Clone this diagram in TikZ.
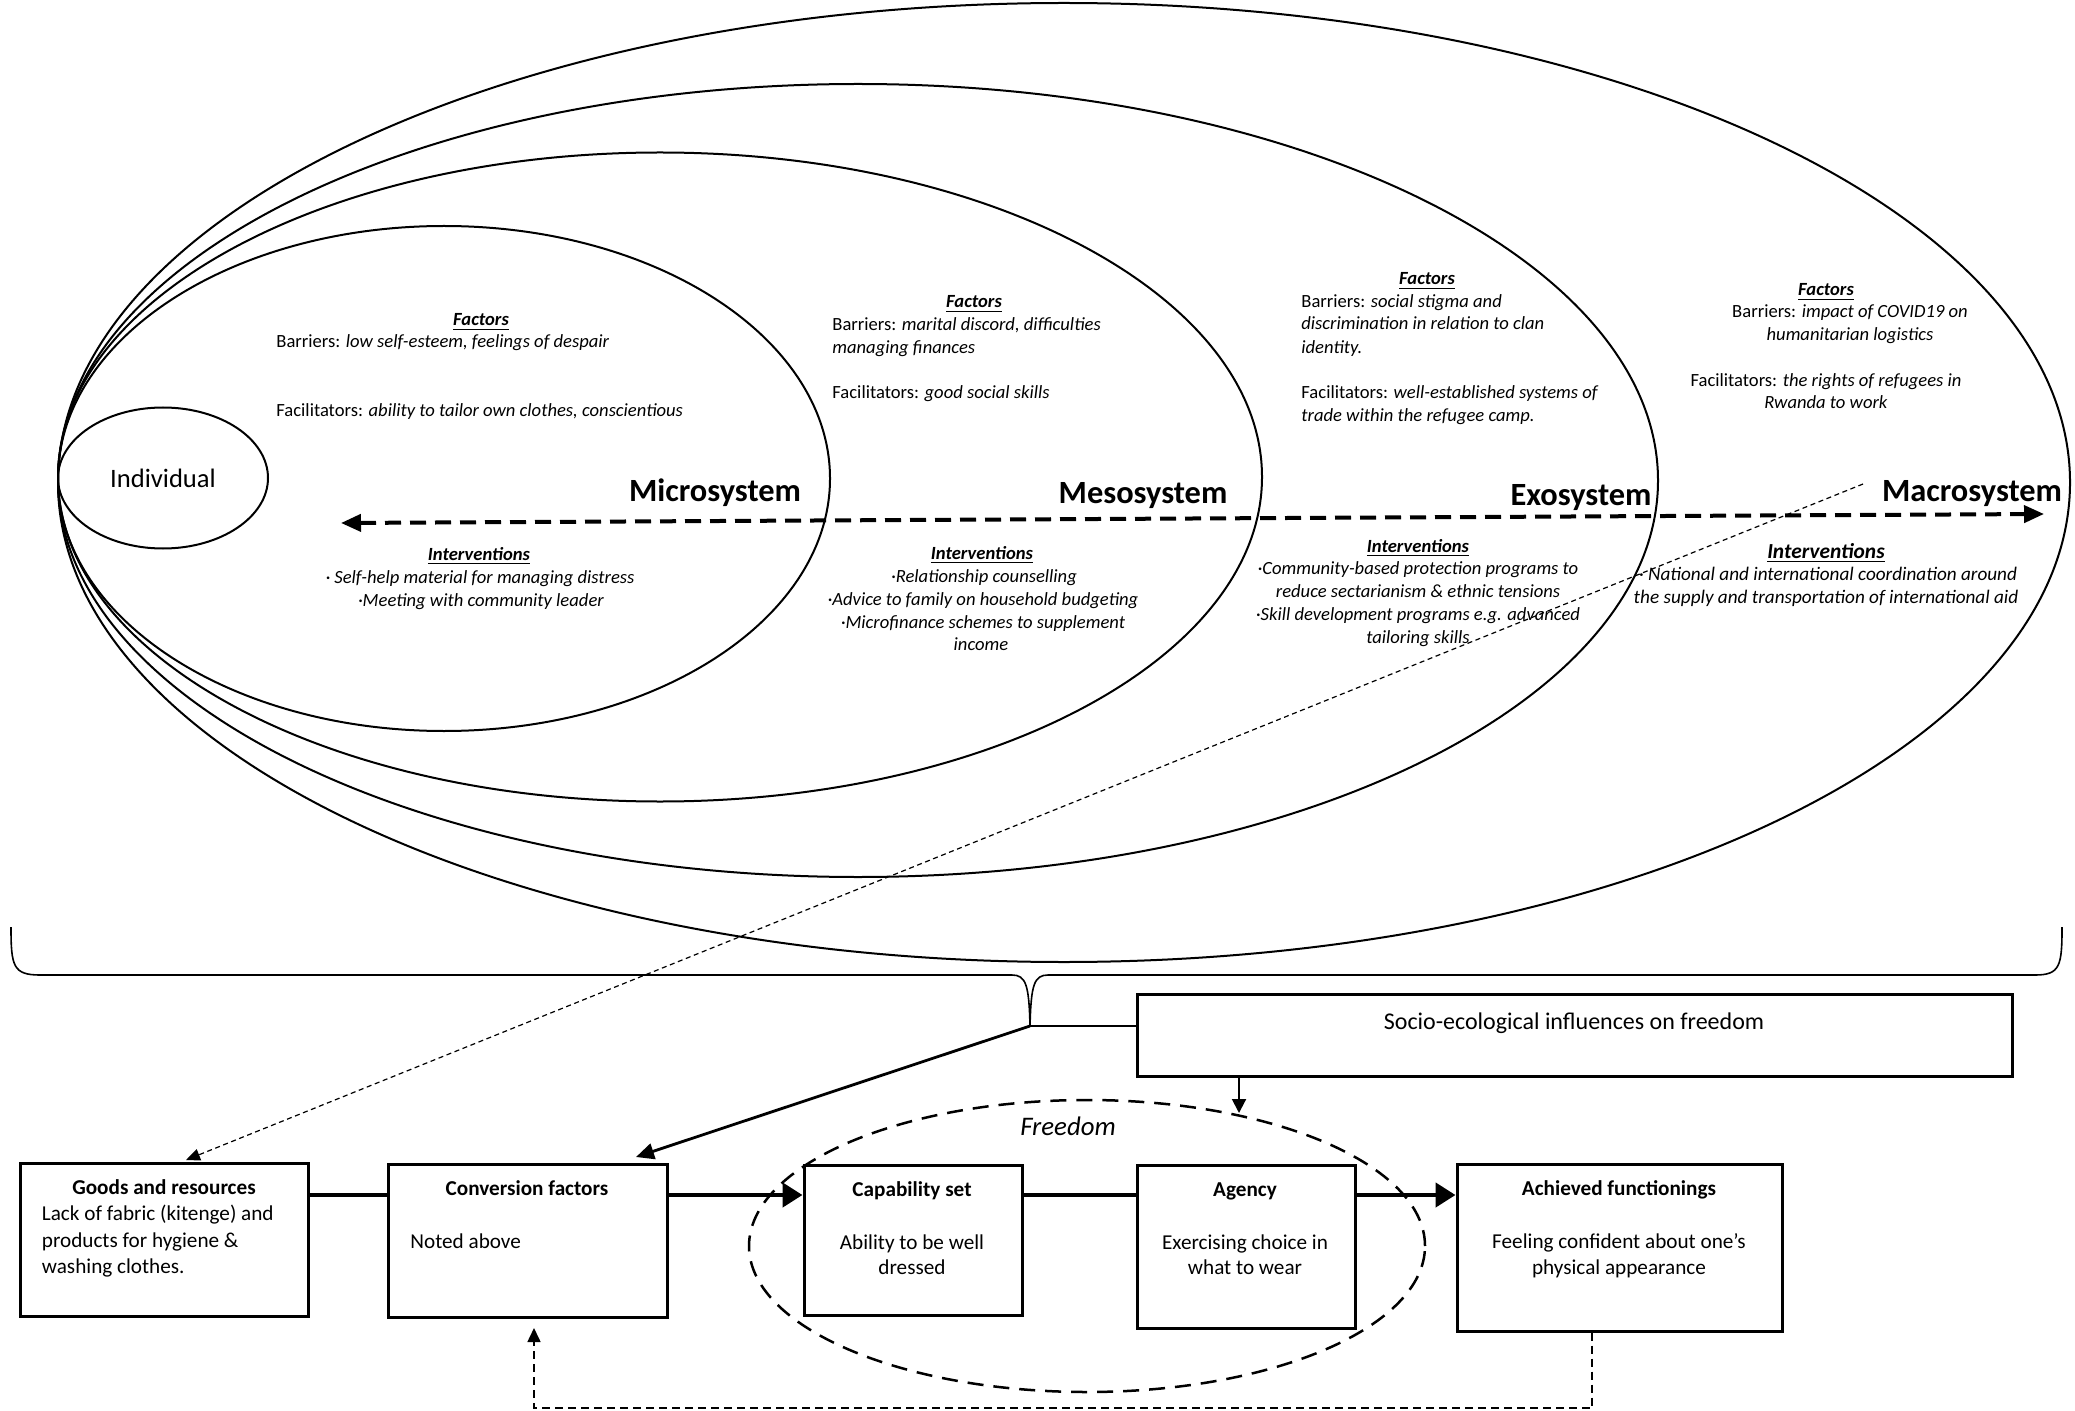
\documentclass[tikz,border=0pt]{standalone}
\usepackage{fontspec}
\setmainfont{Carlito}
\usetikzlibrary{arrows.meta,shapes.geometric}
\newcommand\fzbody{\fontsize{9.3}{11.5}\selectfont}
\newcommand\fzbox{\fontsize{10.6}{13.25}\selectfont}
\newcommand\myhdr[1]{\underline{\textbf{\textit{#1}}}}
\begin{document}
\begin{tikzpicture}[x=0.5pt,y=-0.5pt,
  ring/.style={draw, line width=1pt, ellipse, inner sep=0pt},
  txt/.style={inner sep=0pt, font=\fzbody},
  atxt/.style={inner sep=0pt, font=\fontsize{9.6}{11.5}\selectfont},
  btxt/.style={inner sep=0pt, font=\fzbox},
  syslabel/.style={inner sep=0pt, font=\fontsize{16.2}{19}\selectfont\bfseries},
  boxnode/.style={draw, line width=1.5pt, rectangle, inner sep=0pt},
  heavy/.style={line width=2.25pt},
  heavytip/.style={-{Triangle[length=10pt,width=12pt]}},
  medline/.style={line width=1.4pt},
  bigdash/.style={line width=2pt, dash pattern=on 8pt off 4.5pt, {Triangle[length=10pt,width=8.5pt]}-{Triangle[length=10pt,width=8.5pt]}},
  freedash/.style={draw, ellipse, inner sep=0pt, line width=1.25pt, dash pattern=on 8pt off 5pt},
  thindash/.style={line width=0.6pt, dash pattern=on 2.5pt off 1.8pt, -{Triangle[length=7pt,width=6pt]}},
  fbdash/.style={line width=0.8pt, dash pattern=on 4pt off 2.5pt, -{Triangle[length=7pt,width=6.5pt]}}
]
\fill[white] (0,0) rectangle (2075,1411);
\useasboundingbox (0,0) rectangle (2075,1411);

% ecological ellipses
\node[ring, minimum width=1006pt, minimum height=479.5pt] (macro) at (1064,482.5) {};
\node[ring, minimum width=800pt, minimum height=396.5pt] (exo) at (858,480.5) {};
\node[ring, minimum width=602pt, minimum height=324.5pt] (meso) at (660,477) {};
\node[ring, minimum width=386pt, minimum height=252.5pt] (micro) at (444,478.5) {};
\node[ring, minimum width=105pt, minimum height=70.5pt, font=\fontsize{13.3}{16}\selectfont] (indiv) at (163,478) {Individual};

% system labels
\node[syslabel, anchor=base] (lmicro) at (715,502) {Microsystem};
\node[syslabel, anchor=base] (lmeso) at (1143,503) {Mesosystem};
\node[syslabel, anchor=base] (lexo) at (1581,505) {Exosystem};
\node[syslabel, anchor=base] (lmacro) at (1972,502) {Macrosystem};

% big double-headed dashed arrow
\coordinate (dl) at (341,523);
\coordinate (dr) at (2044,514);
\draw[bigdash] (dl) -- (dr);

% Microsystem texts
\node[txt, anchor=base] (mfac) at (481,326) {\myhdr{Factors}};
\node[txt, anchor=base west] (mbar) at (276,348) {Barriers: \textit{low self-esteem, feelings of despair}};
\node[txt, anchor=base west] (mfacil) at (276,417) {Facilitators: \textit{ability to tailor own clothes, conscientious}};
\node[txt, anchor=base] (mint) at (479,560) {\myhdr{Interventions}};
\node[txt, anchor=base] (mi1) at (480,583) {\textit{· Self-help material for managing distress}};
\node[txt, anchor=base] (mi2) at (481,606) {\textit{·Meeting with community leader}};

% Mesosystem texts
\node[txt, anchor=base] (sfac) at (974,308) {\myhdr{Factors}};
\node[txt, anchor=base west] (sbar1) at (832,331) {Barriers: \textit{marital discord, difficulties}};
\node[txt, anchor=base west] (sbar2) at (832,354) {\textit{managing finances}};
\node[txt, anchor=base west] (sfacil) at (832,399) {Facilitators: \textit{good social skills}};
\node[txt, anchor=base] (sint) at (982,559) {\myhdr{Interventions}};
\node[txt, anchor=base] (si1) at (984,582) {\textit{·Relationship counselling}};
\node[txt, anchor=base] (si2) at (983,605) {\textit{·Advice to family on household budgeting}};
\node[txt, anchor=base] (si3) at (983,628) {\textit{·Microfinance schemes to supplement}};
\node[txt, anchor=base] (si4) at (981,650) {\textit{income}};

% Exosystem texts
\node[txt, anchor=base] (efac) at (1427,285) {\myhdr{Factors}};
\node[txt, anchor=base west] (ebar1) at (1301,308) {Barriers: \textit{social stigma and}};
\node[txt, anchor=base west] (ebar2) at (1301,330) {\textit{discrimination in relation to clan}};
\node[txt, anchor=base west] (ebar3) at (1301,354) {\textit{identity.}};
\node[txt, anchor=base west] (efacil1) at (1301,399) {Facilitators: \textit{well-established systems of}};
\node[txt, anchor=base west] (efacil2) at (1301,422) {\textit{trade within the refugee camp.}};
\node[txt, anchor=base] (eint) at (1418,552) {\myhdr{Interventions}};
\node[txt, anchor=base] (ei1) at (1418,574) {\textit{·Community-based protection programs to}};
\node[txt, anchor=base] (ei2) at (1418,597) {\textit{reduce sectarianism \& ethnic tensions}};
\node[txt, anchor=base] (ei3) at (1418,620) {\textit{·Skill development programs e.g. advanced}};
\node[txt, anchor=base] (ei4) at (1418,643) {\textit{tailoring skills}};

% Macrosystem texts
\node[txt, anchor=base] (afac) at (1826,296) {\myhdr{Factors}};
\node[txt, anchor=base] (abar1) at (1850,318) {Barriers: \textit{impact of COVID19 on}};
\node[txt, anchor=base] (abar2) at (1850,341) {\textit{humanitarian logistics}};
\node[txt, anchor=base] (afacil1) at (1826,387) {Facilitators: \textit{the rights of refugees in}};
\node[txt, anchor=base] (afacil2) at (1826,409) {\textit{Rwanda to work}};
\node[inner sep=0pt, font=\fontsize{10.7}{13}\selectfont, anchor=base] (aint) at (1826,558) {\myhdr{Interventions}};
\node[atxt, anchor=base] (ai1) at (1828,580) {\textit{· National and international coordination around}};
\node[atxt, anchor=base] (ai2) at (1826,603) {\textit{the supply and transportation of international aid}};

% thin dashed line to goods
\coordinate (ds) at (1863,484);
\coordinate (gt) at (186,1160);

% brace
\draw[line width=0.8pt] (11,927) .. controls (11,966) and (13,975) .. (40,975) -- (1012,975)
  .. controls (1026,975) and (1029,985) .. (1030,1026)
  .. controls (1031,985) and (1034,975) .. (1048,975) -- (2035,975)
  .. controls (2060,975) and (2062,966) .. (2062,927);
\coordinate (tip) at (1030,1026);

% socio box
\node[boxnode, minimum width=437.5pt, minimum height=41pt] (socio) at (1574.5,1035) {};
\node[inner sep=0pt, font=\fontsize{12}{14}\selectfont, anchor=base] (sociot) at (1574,1029) {Socio-ecological influences on freedom};

% freedom ellipse
\node[freedash, minimum width=338pt, minimum height=146pt] (freedom) at (1087,1246) {};
\node[inner sep=0pt, font=\fontsize{13.4}{16}\selectfont\itshape, anchor=base] (freet) at (1068,1135) {Freedom};

% boxes
\node[boxnode, minimum width=144pt, minimum height=76.5pt] (goods) at (164,1239.5) {};
\node[boxnode, minimum width=139.5pt, minimum height=76.5pt] (conv) at (527.5,1240.5) {};
\node[boxnode, minimum width=109pt, minimum height=75pt] (cap) at (913,1240) {};
\node[boxnode, minimum width=109pt, minimum height=81.5pt] (agency) at (1246,1246.5) {};
\node[boxnode, minimum width=162.5pt, minimum height=83.5pt] (ach) at (1619.5,1247.5) {};

% box texts
\node[btxt, anchor=base] (goodst) at (164,1194) {\textbf{Goods and resources}};
\node[btxt, anchor=base west] (goods1) at (41.5,1220) {Lack of fabric (kitenge) and};
\node[btxt, anchor=base west] (goods2) at (41.5,1247) {products for hygiene \&};
\node[btxt, anchor=base west] (goods3) at (41.5,1273) {washing clothes.};
\node[btxt, anchor=base] (convt) at (527,1195) {\textbf{Conversion factors}};
\node[btxt, anchor=base west] (conv1) at (410,1248) {Noted above};
\node[btxt, anchor=base] (capt) at (912,1196) {\textbf{Capability set}};
\node[btxt, anchor=base] (cap1) at (912,1249) {Ability to be well};
\node[btxt, anchor=base] (cap2) at (912,1274) {dressed};
\node[btxt, anchor=base] (agt) at (1245,1196) {\textbf{Agency}};
\node[btxt, anchor=base] (ag1) at (1245,1249) {Exercising choice in};
\node[btxt, anchor=base] (ag2) at (1245,1274) {what to wear};
\node[btxt, anchor=base] (acht) at (1619,1195) {\textbf{Achieved functionings}};
\node[btxt, anchor=base] (ach1) at (1619,1248) {Feeling confident about one’s};
\node[btxt, anchor=base] (ach2) at (1619,1274) {physical appearance};

% connectors
\coordinate (cy) at (0,1195);
\draw[heavy] (goods.east |- cy) -- (conv.west |- cy);
\draw[heavy, heavytip] (conv.east |- cy) -- (cap.west |- cy);
\draw[heavy] (cap.east |- cy) -- (agency.west |- cy);
\draw[heavy, heavytip] (agency.east |- cy) -- (ach.west |- cy);

\coordinate (cvt) at (636,1157);
\draw[medline] (tip) -- (socio.west |- tip);
\draw[medline, -{Triangle[length=9pt,width=8pt]}] (tip) -- (cvt);

\coordinate (fr) at (1239,1113);
\draw[line width=1pt, -{Triangle[length=7pt,width=7pt]}] (socio.south -| fr) -- (fr);

\draw[thindash] (ds) -- (gt);

\coordinate (fb1) at (1592,1408);
\coordinate (fb2) at (534,1328);
\draw[fbdash] (ach.south -| fb1) -- (fb1) -| (fb2);
\end{tikzpicture}
\end{document}
